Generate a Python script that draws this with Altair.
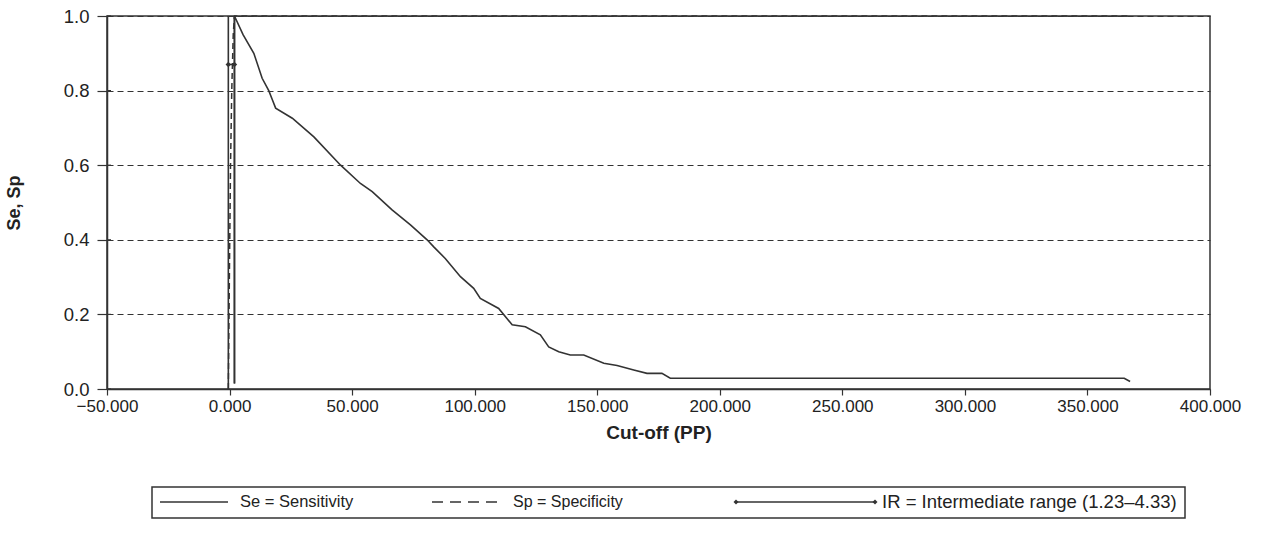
import altair as alt
import pandas as pd

# ---------------- data ----------------
se_x = [2.0, 2.0, 5.5, 9.9, 13.3, 16.0, 17.5, 18.8, 25.6, 34.4, 45.3, 53.4, 58.2, 66.3,
        73.8, 80.6, 83.3, 88.0, 94.2, 99.6, 102.3, 109.8, 115.3, 120.7, 126.8, 130.2,
        134.3, 139.0, 144.5, 152.7, 158.1, 164.9, 170.3, 176.4, 179.8, 365.0, 367.4]
se_y = [0.015, 1.0, 0.95, 0.90, 0.833, 0.80, 0.775, 0.753, 0.726, 0.676, 0.60, 0.551,
        0.529, 0.48, 0.44, 0.40, 0.381, 0.35, 0.301, 0.27, 0.243, 0.216, 0.172, 0.167,
        0.145, 0.113, 0.10, 0.091, 0.091, 0.069, 0.063, 0.051, 0.042, 0.042, 0.029,
        0.029, 0.02]

sp_x = [-0.5, 0.0, 0.4, 0.9, 1.5, 2.0, 367.4]
sp_y = [0.0, 0.35, 0.6, 0.8, 0.95, 1.0, 1.0]

ir_x = [-0.5, 2.0]
ir_y = [0.87, 0.87]

bound_x = [-0.5, 2.0]
bound_lo = [0.0, 0.015]
bound_hi = [1.0, 1.0]

x_ticks = [-50, 0, 50, 100, 150, 200, 250, 300, 350, 400]
y_ticks = [0.0, 0.2, 0.4, 0.6, 0.8, 1.0]

legend_labels = ["Se = Sensitivity", "Sp = Specificity",
                 "IR = Intermediate range (1.23\u20134.33)"]

x_title = "Cut-off (PP)"
y_title = "Se, Sp"

# ---------------- styling ----------------
FONT = "Liberation Sans, Arial, Helvetica, sans-serif"
INK = "#333333"
TXT = "#222222"
W, H = 1103, 373

se_df = pd.DataFrame({"x": se_x, "y": se_y, "o": list(range(len(se_x)))})
sp_df = pd.DataFrame({"x": sp_x, "y": sp_y, "o": list(range(len(sp_x)))})
ir_df = pd.DataFrame({"x": ir_x, "y": ir_y})
bd_df = pd.DataFrame({"x": bound_x, "y": bound_lo, "y2": bound_hi})
yt_df = pd.DataFrame({"y": y_ticks})
one = pd.DataFrame({"k": [0]})

xs = alt.Scale(domain=[x_ticks[0], x_ticks[-1]], nice=False, zero=False)
ys = alt.Scale(domain=[y_ticks[0], y_ticks[-1]], nice=False, zero=False)

x_axis = alt.Axis(values=x_ticks, format=".3f", grid=False, tickSize=6,
                  labelPadding=3, labelFlush=False, labelFontSize=17,
                  titleY=43, titleBaseline="middle",
                  titleFontWeight="bold", titleFontSize=19)
y_axis = alt.Axis(values=y_ticks, format=".1f", grid=True, gridDash=[6, 4],
                  gridColor=INK, gridWidth=1, tickSize=10, labelPadding=8,
                  labelFlush=False, labelFontSize=18.5,
                  titleX=-93, titleY=H / 2, titleBaseline="middle",
                  titleFontWeight="bold", titleFontSize=18)


def X(field="x"):
    return alt.X(f"{field}:Q", scale=xs, axis=x_axis, title=x_title)


def Y(field="y"):
    return alt.Y(f"{field}:Q", scale=ys, axis=y_axis, title=y_title)


se_line = alt.Chart(se_df).mark_line(color=INK, strokeWidth=1.6).encode(
    x=X(), y=Y(), order="o:Q")
sp_line = alt.Chart(sp_df).mark_line(color=INK, strokeWidth=1.5, strokeDash=[6, 4]).encode(
    x=X(), y=Y(), order="o:Q")
bounds = alt.Chart(bd_df).mark_rule(color=INK, strokeWidth=1.6).encode(
    x=X(), y=Y(), y2="y2:Q")
ir_line = alt.Chart(ir_df).mark_line(color=INK, strokeWidth=1.5).encode(x=X(), y=Y())
ir_pts = alt.Chart(ir_df).mark_point(shape="diamond", filled=True, color=INK, size=30,
                                     opacity=1).encode(x=X(), y=Y())
# inner half of the crossing y ticks
y_inner = alt.Chart(yt_df).mark_rule(color=INK, strokeWidth=1.2).encode(
    x=alt.value(0), x2=alt.value(4), y=Y())

# ---------------- legend (drawn below the plot) ----------------
LY = 486
box = alt.Chart(one).mark_rect(fill="white", stroke=INK, strokeWidth=1.5).encode(
    x=alt.value(45), x2=alt.value(1078), y=alt.value(471), y2=alt.value(502))
lg_se = alt.Chart(one).mark_rule(color=INK, strokeWidth=1.5).encode(
    x=alt.value(53), x2=alt.value(121), y=alt.value(LY))
lg_se_t = alt.Chart(one).mark_text(text=legend_labels[0], align="left", baseline="middle",
                                   font=FONT, fontSize=16.5, color=TXT).encode(
    x=alt.value(133), y=alt.value(LY))
lg_sp = alt.Chart(one).mark_rule(color=INK, strokeWidth=1.5, strokeDash=[11, 7]).encode(
    x=alt.value(325), x2=alt.value(393), y=alt.value(LY))
lg_sp_t = alt.Chart(one).mark_text(text=legend_labels[1], align="left", baseline="middle",
                                   font=FONT, fontSize=16, color=TXT).encode(
    x=alt.value(406), y=alt.value(LY))
lg_ir = alt.Chart(one).mark_rule(color=INK, strokeWidth=1.5).encode(
    x=alt.value(629), x2=alt.value(768), y=alt.value(LY))
lg_ir_a = alt.Chart(one).mark_point(shape="diamond", filled=True, color=INK, size=25,
                                    opacity=1).encode(x=alt.value(629), y=alt.value(LY))
lg_ir_b = alt.Chart(one).mark_point(shape="diamond", filled=True, color=INK, size=25,
                                    opacity=1).encode(x=alt.value(768), y=alt.value(LY))
lg_ir_t = alt.Chart(one).mark_text(text=legend_labels[2], align="left", baseline="middle",
                                   font=FONT, fontSize=18.5, color=TXT).encode(
    x=alt.value(775), y=alt.value(LY))

chart = alt.layer(
    bounds, sp_line, se_line, ir_line, ir_pts, y_inner,
    box, lg_se, lg_se_t, lg_sp, lg_sp_t, lg_ir, lg_ir_a, lg_ir_b, lg_ir_t,
).properties(
    width=W, height=H,
    autosize=alt.AutoSizeParams(type="none"),
    padding={"left": 107, "top": 16, "right": 58, "bottom": 149},
    background="white",
).configure_view(
    stroke=INK, strokeWidth=1.5,
).configure_axis(
    labelFont=FONT, labelColor=TXT,
    titleFont=FONT, titleColor=TXT,
    domainColor=INK, domainWidth=1.5, tickColor=INK, tickWidth=1.2,
)

chart.save("out.html", embed_options={"renderer": "svg", "actions": False})
